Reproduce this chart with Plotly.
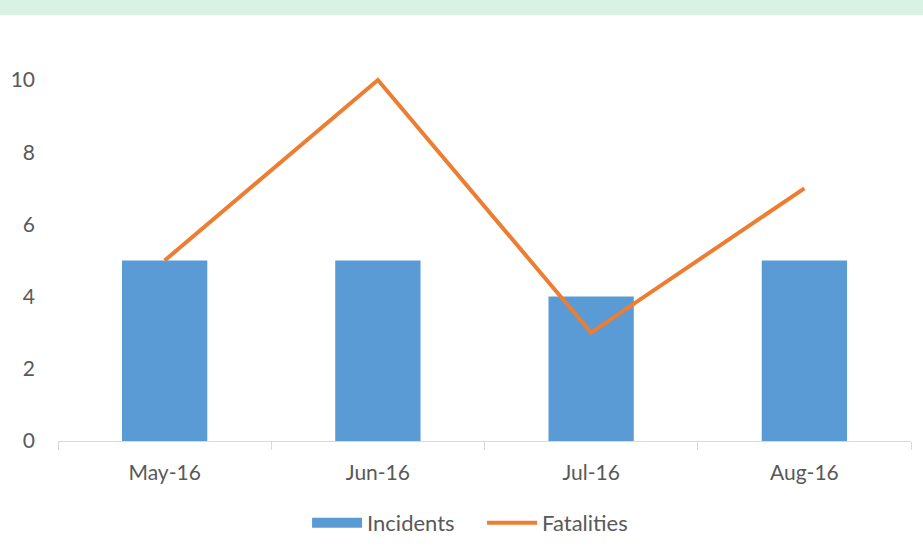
import plotly.graph_objects as go

months = ["May-16", "Jun-16", "Jul-16", "Aug-16"]
incidents = [5, 5, 4, 5]
fatalities = [5, 10, 3, 7]
y_ticks = [0, 2, 4, 6, 8, 10]

BLUE = "#5B9BD5"
ORANGE = "#ED7D31"

fig = go.Figure()
fig.add_trace(go.Bar(x=months, y=incidents, name="Incidents", showlegend=False,
                     marker=dict(color=BLUE, line=dict(width=0)), width=0.4))
fig.add_trace(go.Scatter(x=[None], y=[None], name="Incidents", mode="lines",
                         line=dict(color=BLUE, width=14)))
fig.add_trace(go.Scatter(x=months, y=fatalities, name="Fatalities", mode="lines",
                         line=dict(color=ORANGE, width=4), cliponaxis=False))

fig.add_shape(type="rect", xref="paper", yref="paper", x0=-0.2, x1=1.2,
              y0=(441 - 15) / 379, y1=1.3, fillcolor="#DAF2E4", line=dict(width=0), layer="below")

fig.update_layout(
    width=923, height=560,
    margin=dict(l=58, r=12, t=62, b=119),
    plot_bgcolor="white", paper_bgcolor="white",
    font=dict(family="Lato", size=21, color="#595959"),
    showlegend=True,
    legend=dict(orientation="h", x=0.292, xanchor="left", y=-0.216, yanchor="middle",
                font=dict(size=22, color="#595959"), itemwidth=50, tracegroupgap=0,
                entrywidth=110),
    xaxis=dict(showline=True, linecolor="#D9D9D9", linewidth=1, tickson="boundaries",
               ticks="outside", ticklen=8, tickcolor="#D9D9D9", showgrid=False,
               ticklabelstandoff=13),
    yaxis=dict(range=[0, 10.5], tickvals=y_ticks, showgrid=False, zeroline=False,
               showline=False, ticks="", ticklabelstandoff=22),
    bargap=0.6,
)
fig.write_html("out.html", config={"displayModeBar": False},
               post_script="document.body.style.margin='0';")
